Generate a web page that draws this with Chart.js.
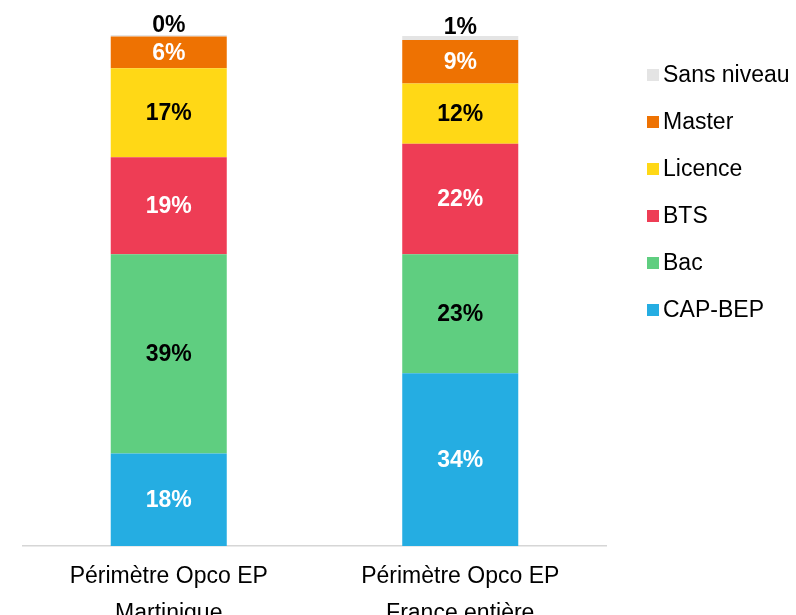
<!DOCTYPE html>
<html><head><meta charset="utf-8">
<script src="https://cdn.jsdelivr.net/npm/chart.js@4.4.0/dist/chart.umd.min.js"></script>
<style>html,body{margin:0;padding:0;background:#fff;overflow:hidden;}</style>
</head><body>
<canvas id="c" width="796" height="615" style="width:796px;height:615px;display:block"></canvas>
<script>
const categories = [["Périmètre Opco EP", "Martinique"], ["Périmètre Opco EP", "France entière"]];
const seriesNames = ["CAP-BEP", "Bac", "BTS", "Licence", "Master", "Sans niveau"];
const capBep = [18.1, 33.8];
const bac = [39.0, 23.3];
const bts = [19.0, 21.6];
const licence = [17.4, 11.8];
const master = [6.2, 8.5];
const sansNiveau = [0.4, 0.8];

const seriesValues = [capBep, bac, bts, licence, master, sansNiveau];
const seriesColors = ["#25ADE2", "#5FCE80", "#EE3D55", "#FFD816", "#EE7202", "#E4E4E4"];
const labelColors = ["#FFFFFF", "#000000", "#FFFFFF", "#000000", "#FFFFFF", "#000000"];
const FONT = '"Liberation Sans", Arial, Helvetica, sans-serif';

const barLabels = {
  id: 'barLabels',
  afterDatasetsDraw(chart) {
    const ctx = chart.ctx;
    ctx.save();
    ctx.font = 'bold 23px ' + FONT;
    ctx.textAlign = 'center';
    chart.data.datasets.forEach((ds, di) => {
      const meta = chart.getDatasetMeta(di);
      meta.data.forEach((el, i) => {
        const v = ds.data[i];
        const txt = Math.round(v) + '%';
        ctx.fillStyle = labelColors[di];
        if (di === chart.data.datasets.length - 1) {
          ctx.textBaseline = 'alphabetic';
          ctx.fillText(txt, el.x, el.y - 2.5);
        } else {
          ctx.textBaseline = 'middle';
          ctx.fillText(txt, el.x, (el.y + el.base) / 2 + 1);
        }
      });
    });
    ctx.restore();
  }
};

const sideLegend = {
  id: 'sideLegend',
  afterDraw(chart) {
    const ctx = chart.ctx;
    ctx.save();
    ctx.font = '23px ' + FONT;
    ctx.textAlign = 'left';
    ctx.textBaseline = 'middle';
    const dss = chart.data.datasets;
    let y = 75;
    for (let k = dss.length - 1; k >= 0; k--) {
      ctx.fillStyle = dss[k].backgroundColor;
      ctx.fillRect(647, y - 6, 12, 12);
      ctx.fillStyle = '#000000';
      ctx.fillText(dss[k].label, 663, y + 1);
      y += 47;
    }
    ctx.restore();
  }
};

new Chart(document.getElementById('c'), {
  type: 'bar',
  data: {
    labels: categories,
    datasets: seriesNames.map((n, i) => ({
      label: n,
      data: seriesValues[i],
      backgroundColor: seriesColors[i],
      borderWidth: 0,
      barPercentage: 0.398,
      categoryPercentage: 1.0
    }))
  },
  options: {
    responsive: false,
    animation: false,
    devicePixelRatio: 1,
    layout: { padding: { left: 23, right: 190, top: 35, bottom: 0 } },
    plugins: { legend: { display: false }, tooltip: { enabled: false } },
    scales: {
      x: {
        stacked: true,
        grid: { display: false, drawTicks: false },
        border: { display: true, color: '#D6D6D6', width: 1.5 },
        ticks: { color: '#000000', font: { family: FONT, size: 23, lineHeight: 1.6 }, padding: 12, maxRotation: 0, autoSkip: false },
        afterFit(axis) { axis.height = 69; }
      },
      y: {
        stacked: true,
        display: false,
        min: 0,
        max: 100
      }
    }
  },
  plugins: [barLabels, sideLegend]
});
</script>
</body></html>
